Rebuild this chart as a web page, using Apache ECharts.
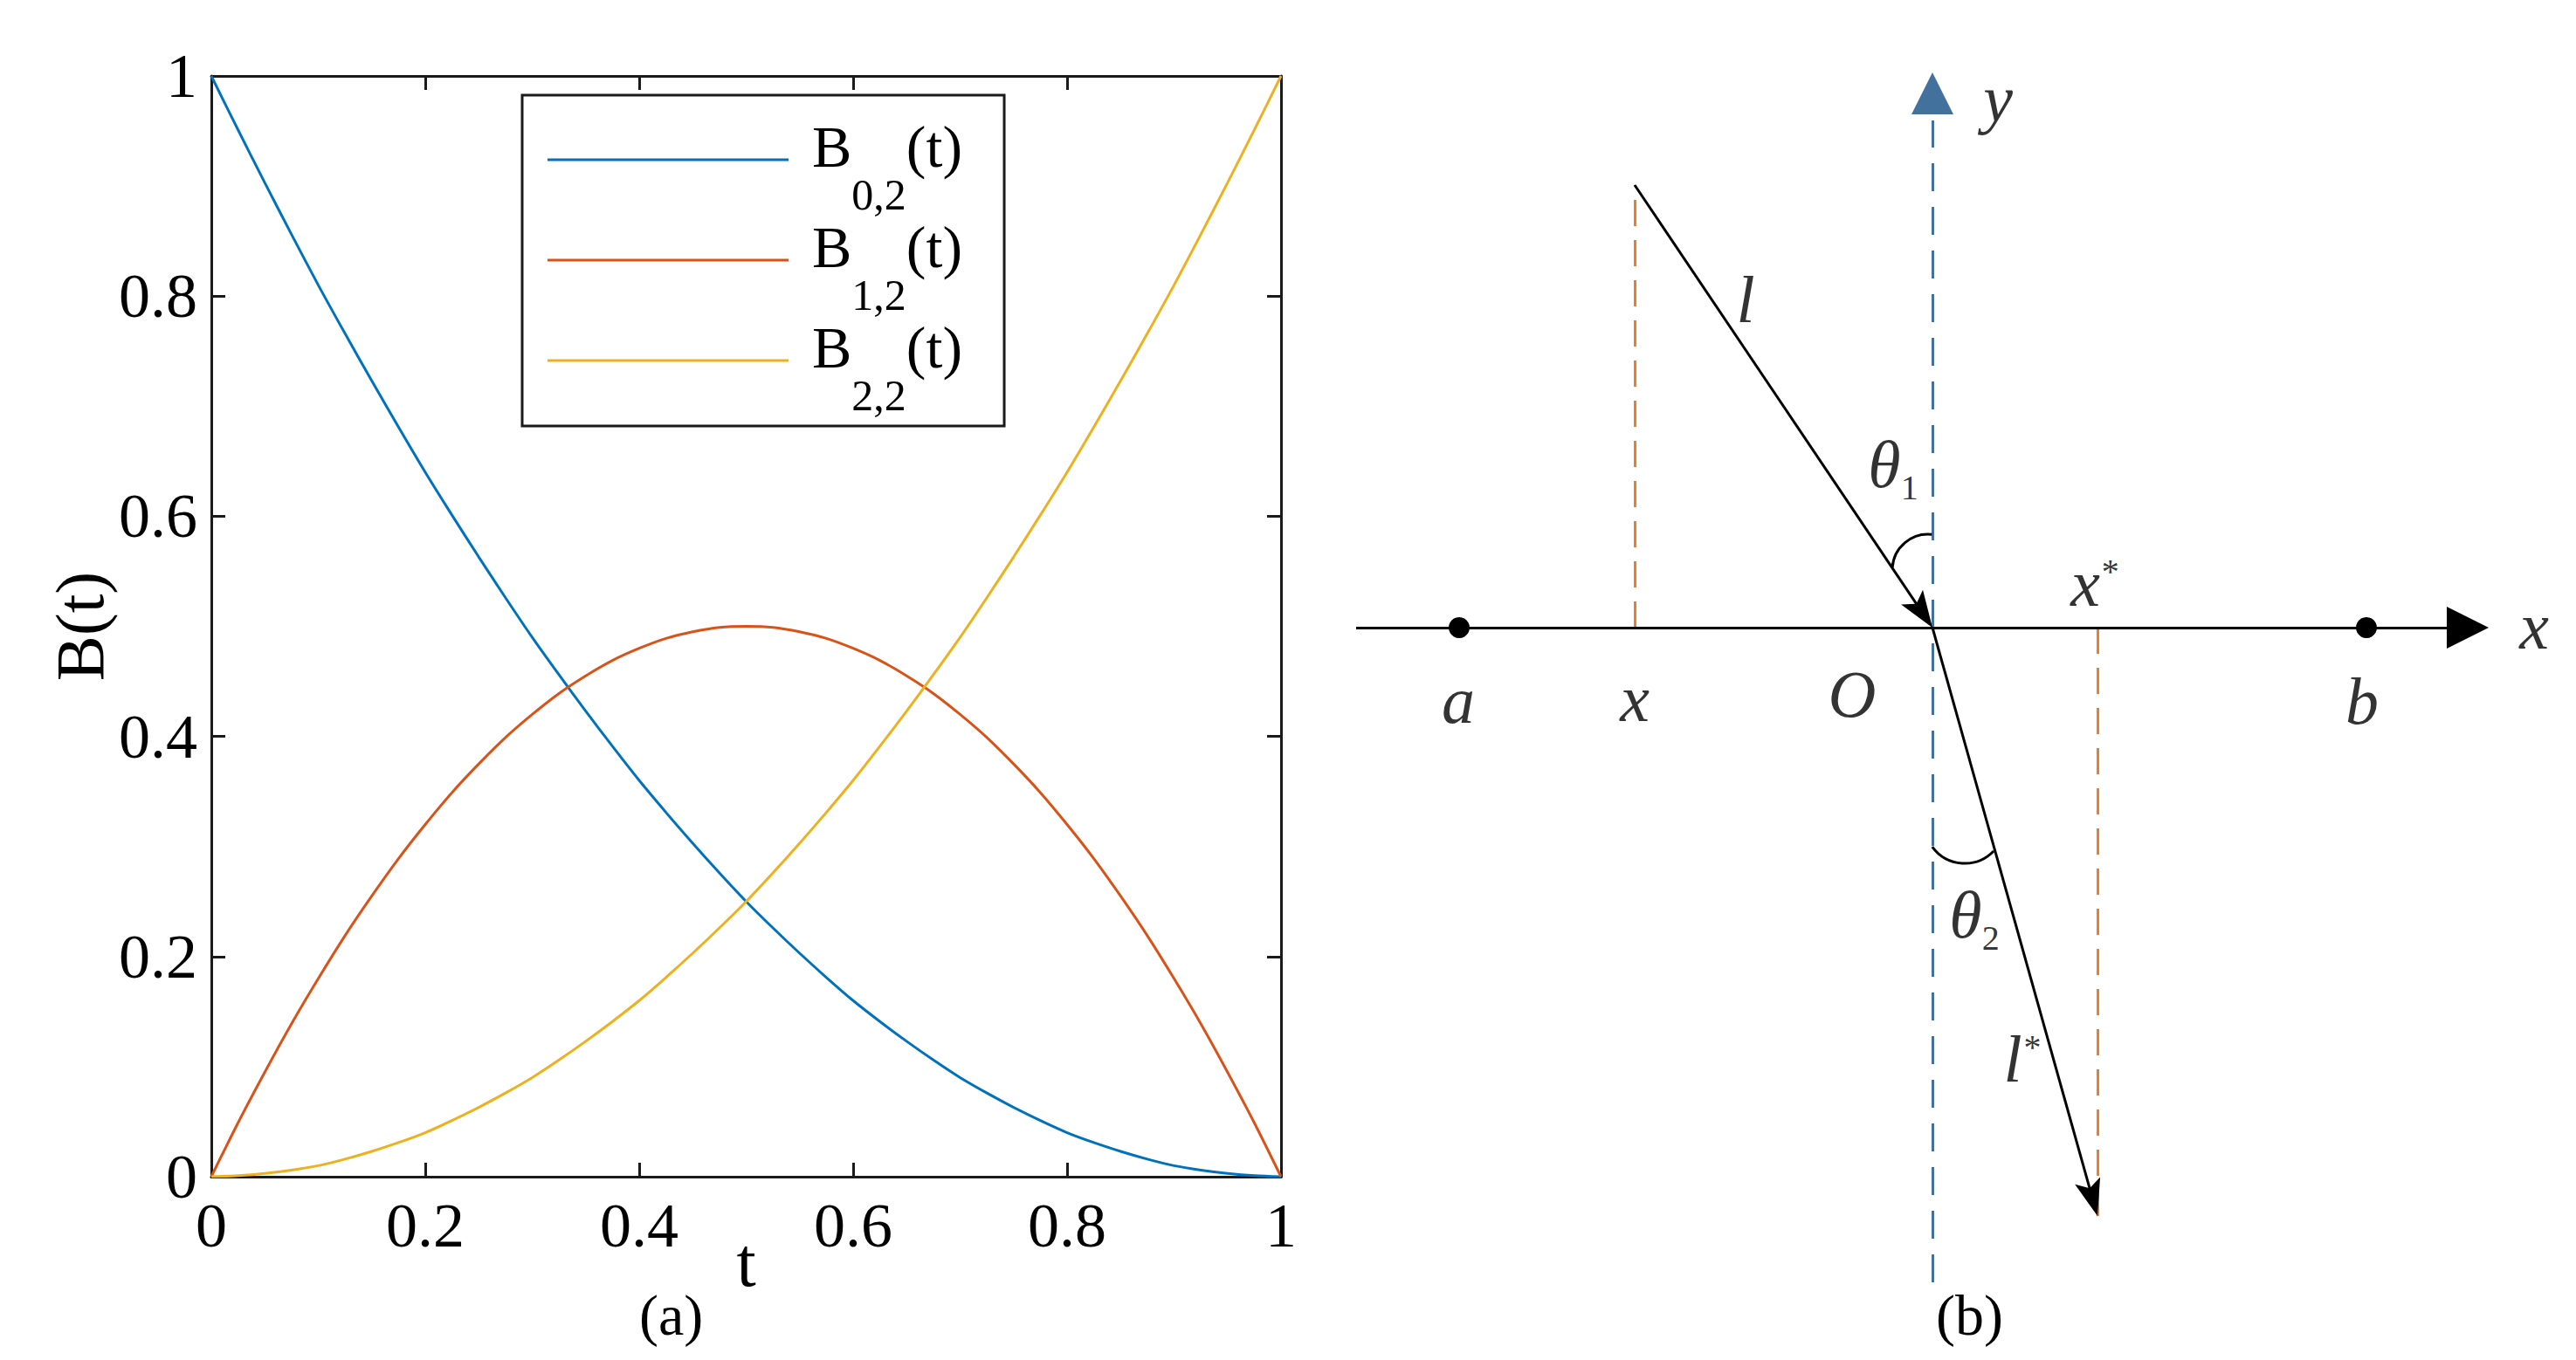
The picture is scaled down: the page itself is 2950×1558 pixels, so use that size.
<!DOCTYPE html>
<html>
<head>
<meta charset="utf-8">
<title>B(t) basis and refraction sketch</title>
<script src="https://cdn.jsdelivr.net/npm/echarts@6/dist/echarts.min.js"></script>
<style>
html, body { margin: 0; padding: 0; background: #ffffff; }
#chart { width: 2950px; height: 1558px; }
</style>
</head>
<body>
<div id="chart"></div>
<script>
// ---- panel (a) : curves ----
var tValues = [0, 0.025, 0.05, 0.075, 0.1, 0.125, 0.15, 0.175, 0.2, 0.225, 0.25, 0.275, 0.3, 0.325, 0.35, 0.375, 0.4, 0.425, 0.45, 0.475,
  0.5, 0.525, 0.55, 0.575, 0.6, 0.625, 0.65, 0.675, 0.7, 0.725, 0.75, 0.775, 0.8, 0.825, 0.85, 0.875, 0.9, 0.925, 0.95, 0.975, 1]
var b02 = [1, 0.951, 0.903, 0.856, 0.81, 0.766, 0.723, 0.681, 0.64, 0.601, 0.563, 0.526, 0.49, 0.456, 0.423, 0.391, 0.36, 0.331, 0.303, 0.276,
  0.25, 0.226, 0.203, 0.181, 0.16, 0.141, 0.123, 0.106, 0.09, 0.076, 0.063, 0.051, 0.04, 0.031, 0.023, 0.016, 0.01, 0.006, 0.003, 0.001, 0]
var b12 = [0, 0.049, 0.095, 0.139, 0.18, 0.219, 0.255, 0.289, 0.32, 0.349, 0.375, 0.399, 0.42, 0.439, 0.455, 0.469, 0.48, 0.489, 0.495, 0.499,
  0.5, 0.499, 0.495, 0.489, 0.48, 0.469, 0.455, 0.439, 0.42, 0.399, 0.375, 0.349, 0.32, 0.289, 0.255, 0.219, 0.18, 0.139, 0.095, 0.049, 0]
var b22 = [0, 0.001, 0.003, 0.006, 0.01, 0.016, 0.023, 0.031, 0.04, 0.051, 0.063, 0.076, 0.09, 0.106, 0.123, 0.141, 0.16, 0.181, 0.203, 0.226,
  0.25, 0.276, 0.303, 0.331, 0.36, 0.391, 0.423, 0.456, 0.49, 0.526, 0.563, 0.601, 0.64, 0.681, 0.723, 0.766, 0.81, 0.856, 0.903, 0.951, 1]
var seriesSubs = ['0,2', '1,2', '2,2']
var seriesColors = ['#0072BD', '#D95319', '#EDB120']
var tickLabels = ['0', '0.2', '0.4', '0.6', '0.8', '1']

// ---- panel (b) : sketch, O at origin ----
var xAxisShaft = [[-6.6, 0], [6.13, 0]]
var rayIn = [[-3.41, 5.07], [-0.117, 0.174]]
var rayOut = [[0, 0], [1.833, -6.538]]
var normalLine = [[0, -7.5], [0, 5.81]]
var dropLines = [
  [[-3.41, 0], [-3.41, 5.07]],
  [[1.89, 0], [1.89, -6.77]]
]
var endPoints = [[-5.42, 0], [4.97, 0]]
var yArrowTip = [[0, 6.12]]
// arcs: centre x, centre y, radius, from angle, to angle (degrees)
var angleArcs = [
  [-0.05, 0.66, 0.41, 84, 176],
  [0.37, -2.24, 0.46, 216, 316]
]
var markText = ['a', 'x', 'O', 'b', 'x', 'y', 'l', 'θ', 'x', 'θ', 'l']
var markSub = ['', '', '', '', '', '', '', '1', '', '2', '']
var markSup = ['', '', '', '', '', '', '', '', '*', '', '*']
var markPos = [
  [-5.43, -0.83], [-3.41, -0.81], [-0.92, -0.76], [4.92, -0.84], [6.89, 0.02],
  [0.75, 6.06], [-2.14, 3.76], [-0.45, 1.87], [1.86, 0.51], [0.48, -3.29], [1.03, -4.94]
]

var serif = "'Liberation Serif', 'Times New Roman', serif"
var stealth = 'path://M15,0L30,42L15,33L0,42Z'
// legend key: a 3px bar sitting at the bottom of a 39px box
var legendKey = 'path://M0,0L0.01,0L0.01,0.01Z M0,36L276,36L276,39L0,39Z'

var chart = echarts.init(document.getElementById('chart'), null, { renderer: 'svg' })

var curveSeries = [b02, b12, b22].map(function (vals, i) {
  return {
    name: 'B' + seriesSubs[i] + '(t)',
    type: 'line',
    xAxisIndex: 0,
    yAxisIndex: 0,
    symbol: 'none',
    smooth: 0.3,
    lineStyle: { color: seriesColors[i], width: 3 },
    itemStyle: { color: seriesColors[i] },
    data: tValues.map(function (t, k) { return [t, vals[k]] })
  }
})

var boxAxis = {
  type: 'value',
  min: 0,
  max: 1,
  interval: 0.2,
  splitLine: { show: false },
  axisLine: { show: true, onZero: false, lineStyle: { color: '#1a1a1a', width: 3 } },
  axisTick: { show: true, inside: true, length: 16, lineStyle: { color: '#1a1a1a', width: 3 } }
}

function labelFmt(v) {
  return tickLabels[Math.round(v / 0.2)]
}

var option = {
  animation: false,
  backgroundColor: '#ffffff',
  textStyle: { fontFamily: serif },
  title: [
    { text: '(a)', left: 727, top: 1468, textStyle: { fontFamily: serif, fontWeight: 'normal', fontSize: 66, color: '#000' } },
    { text: '(b)', left: 2212, top: 1468, textStyle: { fontFamily: serif, fontWeight: 'normal', fontSize: 66, color: '#000' } }
  ],
  legend: {
    data: curveSeries.map(function (s) { return { name: s.name, icon: legendKey } }),
    orient: 'vertical',
    left: 598,
    top: 109,
    padding: [25, 48, 10, 29],
    itemGap: 1,
    itemWidth: 276,
    itemHeight: 39,
    selectedMode: false,
    backgroundColor: '#ffffff',
    borderColor: '#1a1a1a',
    borderWidth: 3,
    borderRadius: 0,
    formatter: function (name) {
      var i = curveSeries.findIndex(function (s) { return s.name === name })
      return '{b0|B}{s|' + seriesSubs[i] + '}{b|(t)}'
    },
    textStyle: {
      fontFamily: serif,
      rich: {
        b0: { fontFamily: serif, fontSize: 68, color: '#000', lineHeight: 62, verticalAlign: 'top', padding: [0, 0, 0, 22] },
        b: { fontFamily: serif, fontSize: 68, color: '#000', lineHeight: 62, verticalAlign: 'top' },
        s: { fontFamily: serif, fontSize: 50, color: '#000', lineHeight: 48, verticalAlign: 'top', padding: [64, 0, 0, 0] }
      }
    }
  },
  grid: [
    { left: 242, right: 1483, top: 87, bottom: 210 },
    { left: 1553, right: 7, top: 69, bottom: 39 }
  ],
  xAxis: [
    Object.assign({}, boxAxis, {
      gridIndex: 0,
      position: 'bottom',
      name: 't',
      nameLocation: 'middle',
      nameGap: 58,
      nameMoveOverlap: false,
      nameTextStyle: { fontFamily: serif, fontSize: 80, color: '#000' },
      axisLabel: { margin: 20, fontFamily: serif, fontSize: 72, color: '#000', formatter: labelFmt }
    }),
    Object.assign({}, boxAxis, { gridIndex: 0, position: 'top', axisLabel: { show: false } }),
    { type: 'value', gridIndex: 1, min: -6.6, max: 7.3, show: false }
  ],
  yAxis: [
    Object.assign({}, boxAxis, {
      gridIndex: 0,
      position: 'left',
      name: 'B(t)',
      nameLocation: 'middle',
      nameGap: 112,
      nameTextStyle: { fontFamily: serif, fontSize: 78, color: '#000' },
      axisLabel: { margin: 16, fontFamily: serif, fontSize: 72, color: '#000', formatter: labelFmt }
    }),
    Object.assign({}, boxAxis, { gridIndex: 0, position: 'right', axisLabel: { show: false } }),
    { type: 'value', gridIndex: 1, min: -8, max: 6.5, show: false }
  ],
  series: curveSeries.concat([
    {
      type: 'lines',
      coordinateSystem: 'cartesian2d',
      xAxisIndex: 2,
      yAxisIndex: 2,
      silent: true,
      symbol: ['none', 'none'],
      lineStyle: { color: '#41719C', width: 3, type: [32, 18], opacity: 1 },
      data: [{ coords: normalLine }]
    },
    {
      type: 'lines',
      coordinateSystem: 'cartesian2d',
      xAxisIndex: 2,
      yAxisIndex: 2,
      silent: true,
      symbol: ['none', 'none'],
      lineStyle: { color: '#ED7D31', width: 3, type: [30, 16], opacity: 1 },
      data: dropLines.map(function (c) { return { coords: c } })
    },
    {
      type: 'lines',
      coordinateSystem: 'cartesian2d',
      xAxisIndex: 2,
      yAxisIndex: 2,
      silent: true,
      symbol: ['none', 'triangle'],
      symbolSize: [1, [48, 48]],
      lineStyle: { color: '#000', width: 3, opacity: 1 },
      data: [{ coords: xAxisShaft }]
    },
    {
      type: 'lines',
      coordinateSystem: 'cartesian2d',
      xAxisIndex: 2,
      yAxisIndex: 2,
      silent: true,
      symbol: ['none', stealth],
      symbolSize: [1, [30, 42]],
      lineStyle: { color: '#000', width: 3, opacity: 1 },
      data: [{ coords: rayIn }, { coords: rayOut }]
    },
    {
      type: 'custom',
      xAxisIndex: 2,
      yAxisIndex: 2,
      silent: true,
      encode: { x: 0, y: 1 },
      renderItem: function (params, api) {
        var c = api.coord([api.value(0), api.value(1)])
        var r = api.size([api.value(2), 0])[0]
        return {
          type: 'arc',
          shape: {
            cx: c[0],
            cy: c[1],
            r: r,
            startAngle: -api.value(3) * Math.PI / 180,
            endAngle: -api.value(4) * Math.PI / 180,
            clockwise: false
          },
          style: { stroke: '#000', lineWidth: 3, fill: 'none' }
        }
      },
      data: angleArcs
    },
    {
      type: 'scatter',
      xAxisIndex: 2,
      yAxisIndex: 2,
      silent: true,
      symbol: 'circle',
      symbolSize: 24,
      itemStyle: { color: '#000', opacity: 1 },
      data: endPoints
    },
    {
      type: 'scatter',
      xAxisIndex: 2,
      yAxisIndex: 2,
      silent: true,
      symbol: 'triangle',
      symbolSize: 48,
      itemStyle: { color: '#41719C', opacity: 1 },
      data: yArrowTip
    },
    {
      type: 'scatter',
      xAxisIndex: 2,
      yAxisIndex: 2,
      silent: true,
      symbolSize: 0,
      label: {
        show: true,
        position: 'inside',
        formatter: function (p) {
          var i = p.dataIndex
          var s = '{m|' + markText[i] + '}'
          if (markSub[i]) s += '{s|' + markSub[i] + '}'
          if (markSup[i]) s += '{p|' + markSup[i] + '}'
          return s
        },
        rich: {
          m: { fontFamily: serif, fontStyle: 'italic', fontSize: 76, color: '#000', lineHeight: 76, verticalAlign: 'top' },
          s: { fontFamily: serif, fontSize: 40, color: '#000', lineHeight: 40, verticalAlign: 'top', padding: [44, 0, 0, 0] },
          p: { fontFamily: serif, fontSize: 40, color: '#000', lineHeight: 40, verticalAlign: 'top', padding: [4, 0, 0, 2] }
        }
      },
      data: markPos
    }
  ])
}

chart.setOption(option)
</script>
</body>
</html>
